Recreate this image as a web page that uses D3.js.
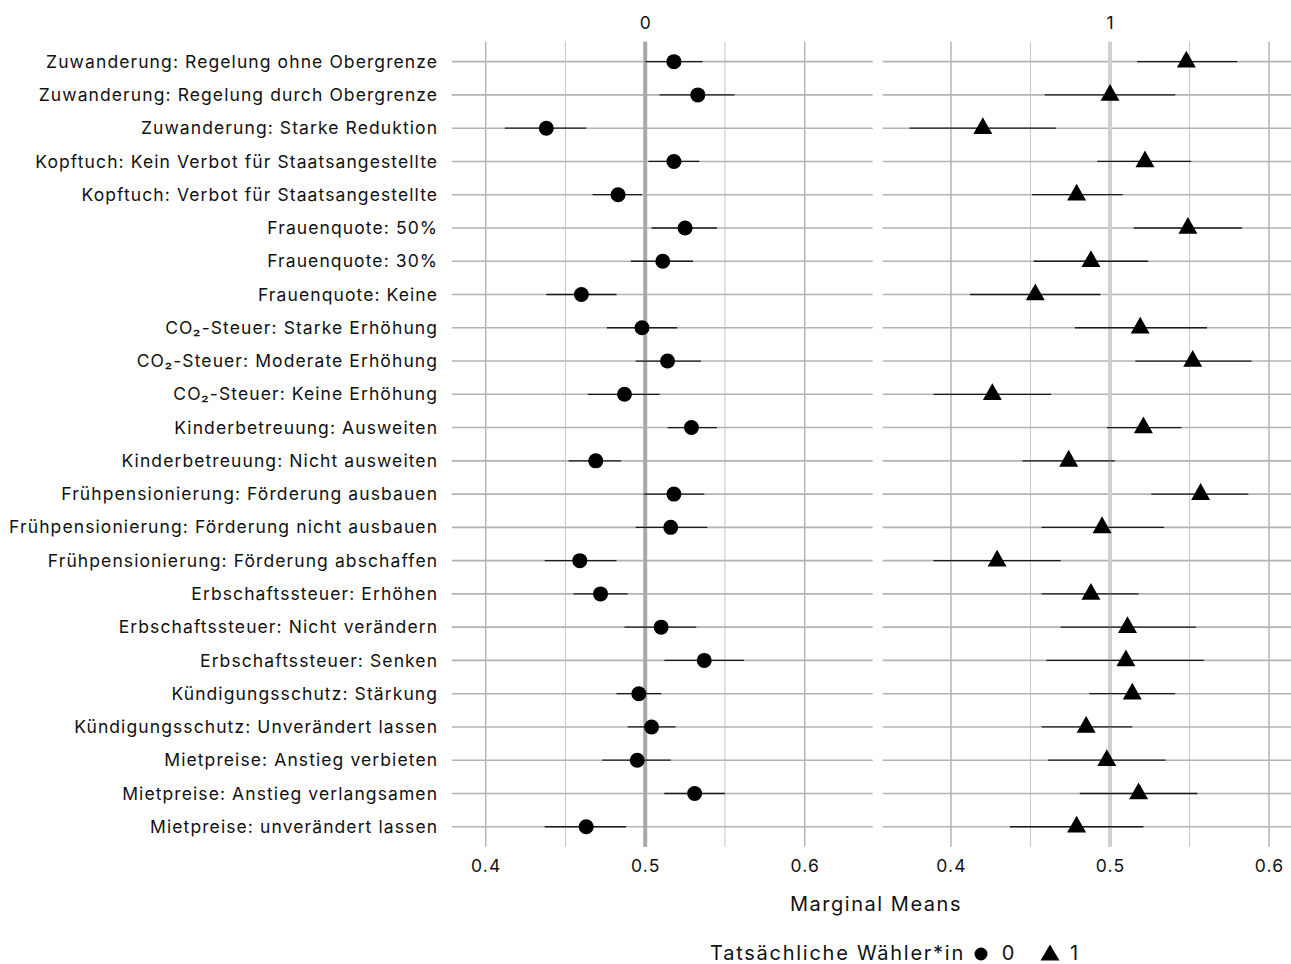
<!DOCTYPE html>
<html><head><meta charset="utf-8">
<script src="https://cdn.jsdelivr.net/npm/d3@7"></script>
<style>
body{margin:0;background:#fff;}
text{font-family:Inter,"Noto Sans",sans-serif;fill:#111;}
</style></head>
<body><svg id="c" width="1291" height="964"></svg>
<script>
const categories = [
 "Zuwanderung: Regelung ohne Obergrenze","Zuwanderung: Regelung durch Obergrenze","Zuwanderung: Starke Reduktion",
 "Kopftuch: Kein Verbot für Staatsangestellte","Kopftuch: Verbot für Staatsangestellte",
 "Frauenquote: 50%","Frauenquote: 30%","Frauenquote: Keine",
 "CO₂-Steuer: Starke Erhöhung","CO₂-Steuer: Moderate Erhöhung","CO₂-Steuer: Keine Erhöhung",
 "Kinderbetreuung: Ausweiten","Kinderbetreuung: Nicht ausweiten",
 "Frühpensionierung: Förderung ausbauen","Frühpensionierung: Förderung nicht ausbauen","Frühpensionierung: Förderung abschaffen",
 "Erbschaftssteuer: Erhöhen","Erbschaftssteuer: Nicht verändern","Erbschaftssteuer: Senken",
 "Kündigungsschutz: Stärkung","Kündigungsschutz: Unverändert lassen",
 "Mietpreise: Anstieg verbieten","Mietpreise: Anstieg verlangsamen","Mietpreise: unverändert lassen"];
const mm0 = [0.518,0.533,0.438,0.518,0.483,0.525,0.511,0.460,0.498,0.514,0.487,0.529,0.469,0.518,0.516,0.459,0.472,0.510,0.537,0.496,0.504,0.495,0.531,0.463];
const lo0 = [0.500,0.509,0.412,0.502,0.467,0.504,0.491,0.438,0.476,0.494,0.464,0.514,0.452,0.499,0.494,0.437,0.455,0.487,0.512,0.482,0.489,0.473,0.512,0.437];
const hi0 = [0.536,0.556,0.463,0.534,0.498,0.545,0.530,0.482,0.520,0.535,0.509,0.545,0.485,0.537,0.539,0.482,0.489,0.532,0.562,0.510,0.519,0.516,0.550,0.488];
const mm1 = [0.548,0.500,0.420,0.522,0.479,0.549,0.488,0.453,0.519,0.552,0.426,0.521,0.474,0.557,0.495,0.429,0.488,0.511,0.510,0.514,0.485,0.498,0.518,0.479];
const lo1 = [0.517,0.459,0.374,0.492,0.451,0.515,0.452,0.412,0.478,0.516,0.389,0.498,0.445,0.526,0.457,0.389,0.457,0.469,0.460,0.487,0.457,0.461,0.481,0.437];
const hi1 = [0.580,0.541,0.466,0.551,0.508,0.583,0.524,0.494,0.561,0.589,0.463,0.545,0.503,0.587,0.534,0.469,0.518,0.554,0.559,0.541,0.514,0.535,0.555,0.521];
const panels = ["0","1"];
const xTicks = [0.4,0.5,0.6];
const xMinor = [0.45,0.55];
const xTitle = "Marginal Means";
const legendTitle = "Tatsächliche Wähler*in";

const svg = d3.select("#c");
const yTop = 41.7, yBot = 846.7;
const y = d3.scalePoint().domain(categories).range([yTop,yBot]).padding(0.6);
const xs = [
  d3.scaleLinear().domain([0.37868,0.64263]).range([451.7,872.7]),
  d3.scaleLinear().domain([0.35704,0.61384]).range([882.7,1291])
];
const series = [
  {mm:mm0,lo:lo0,hi:hi0,shape:"circle",vcol:"#a9a9a9"},
  {mm:mm1,lo:lo1,hi:hi1,shape:"triangle",vcol:"#d0d0d0"}
];
const triPath = "M0,-11L9.5,5.8L-9.5,5.8Z";

// widen a text (via letter-spacing) so that it spans a target width
function spacingFor(textNode, target){
  const w = textNode.getComputedTextLength();
  const n = textNode.textContent.length;
  return (target - w) / n;
}

series.forEach((s,i)=>{
  const x = xs[i];
  const g = svg.append("g");
  const [x0,x1] = x.range();
  g.selectAll(".mn").data(xMinor).join("line")
    .attr("x1",d=>x(d)).attr("x2",d=>x(d)).attr("y1",yTop).attr("y2",yBot)
    .attr("stroke","#cacaca").attr("stroke-width",1.1);
  g.selectAll(".mj").data(xTicks).join("line")
    .attr("x1",d=>x(d)).attr("x2",d=>x(d)).attr("y1",yTop).attr("y2",yBot)
    .attr("stroke","#b5b5b5").attr("stroke-width",1.5);
  g.selectAll(".hg").data(categories).join("line")
    .attr("x1",x0).attr("x2",x1).attr("y1",d=>y(d)).attr("y2",d=>y(d))
    .attr("stroke","#b3b3b3").attr("stroke-width",1.6);
  g.append("line").attr("x1",x(0.5)).attr("x2",x(0.5)).attr("y1",yTop).attr("y2",yBot)
    .attr("stroke",s.vcol).attr("stroke-width",4);
  g.selectAll(".eb").data(categories).join("line")
    .attr("x1",(d,j)=>x(s.lo[j])).attr("x2",(d,j)=>x(s.hi[j]))
    .attr("y1",d=>y(d)).attr("y2",d=>y(d))
    .attr("stroke","#1a1a1a").attr("stroke-width",1.3);
  if(s.shape==="circle"){
    g.selectAll(".pt").data(categories).join("circle")
      .attr("cx",(d,j)=>x(s.mm[j])).attr("cy",d=>y(d)).attr("r",7.5).attr("fill","#000");
  } else {
    g.selectAll(".pt").data(categories).join("path")
      .attr("d",triPath)
      .attr("transform",(d,j)=>`translate(${x(s.mm[j])},${y(d)})`).attr("fill","#000");
  }
  const ax = svg.append("g").attr("transform",`translate(0,${yBot+10})`)
    .call(d3.axisBottom(x).tickValues(xTicks).tickSize(0).tickFormat(d3.format(".1f")));
  ax.select(".domain").remove();
  ax.selectAll("text").attr("font-size",17.5).attr("dy","0.71em")
    .style("font-family","Inter,'Noto Sans',sans-serif").attr("fill","#111")
    .style("letter-spacing","1.2px");
  svg.append("text").attr("x",x(0.5)).attr("y",22).attr("text-anchor","middle")
    .attr("dominant-baseline","central").attr("font-size",17.5).text(panels[i]);
});

const ay = svg.append("g").attr("transform","translate(446,0)")
  .call(d3.axisLeft(y).tickSize(0).tickPadding(9));
ay.select(".domain").remove();
const yl = ay.selectAll("text").attr("font-size",17.5)
  .style("font-family","Inter,'Noto Sans',sans-serif").attr("fill","#111");
// reference: the longest label spans 429 px
let longest = null;
yl.each(function(){ if(!longest || this.getComputedTextLength()>longest.getComputedTextLength()) longest=this; });
const ls = spacingFor(longest, 429);
yl.style("letter-spacing", ls+"px").attr("dx", ls);

const xt = svg.append("text").attr("x",876).attr("y",904).attr("text-anchor","middle")
  .attr("dominant-baseline","central").attr("font-size",20).text(xTitle);
xt.style("letter-spacing", spacingFor(xt.node(),172)+"px");

const ly = 953;
const lg = svg.append("g");
const lt = lg.append("text").attr("x",710).attr("y",ly)
  .attr("dominant-baseline","central").attr("font-size",20).text(legendTitle);
lt.style("letter-spacing", spacingFor(lt.node(),255)+"px");
lg.append("circle").attr("cx",981).attr("cy",ly+1).attr("r",6.5).attr("fill","#000");
lg.append("text").attr("x",1008).attr("y",ly).attr("text-anchor","middle").attr("dominant-baseline","central").attr("font-size",20).text(panels[0]);
lg.append("path").attr("d","M0,-8.5L9.5,7.5L-9.5,7.5Z").attr("transform",`translate(1050,${ly})`).attr("fill","#000");
lg.append("text").attr("x",1074).attr("y",ly).attr("text-anchor","middle").attr("dominant-baseline","central").attr("font-size",20).text(panels[1]);
</script></body></html>
